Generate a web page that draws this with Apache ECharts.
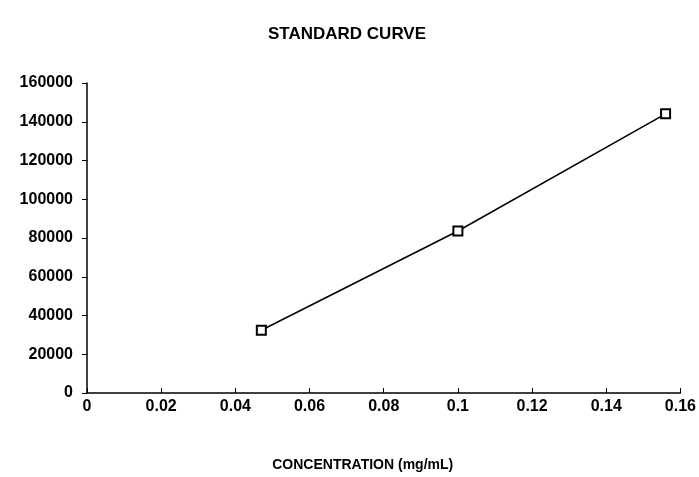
<!DOCTYPE html>
<html>
<head>
<meta charset="utf-8">
<script src="https://cdn.jsdelivr.net/npm/echarts@6/dist/echarts.min.js"></script>
<style>
  html, body { margin: 0; padding: 0; background: #fff; }
  #chart { width: 699px; height: 477px; }
</style>
</head>
<body>
<div id="chart"></div>
<script>
// standard curve points
var concentration = [0.047, 0.1, 0.156];
var response = [32400, 83600, 144100];

var chartDom = document.getElementById('chart');
var myChart = echarts.init(chartDom);
var option;

var fontFam = '"Liberation Sans", Arial, sans-serif';

option = {
  backgroundColor: '#fff',
  animation: false,
  title: {
    text: 'STANDARD CURVE',
    left: 342,
    top: 21,
    textAlign: 'center',
    textStyle: { fontFamily: fontFam, fontSize: 17, fontWeight: 'bold', color: '#000' }
  },
  grid: { left: 87, right: 17, top: 83, bottom: 82 },
  xAxis: {
    type: 'value',
    min: 0,
    max: 0.16,
    interval: 0.02,
    name: 'CONCENTRATION (mg/mL)',
    nameLocation: 'middle',
    nameGap: 65,
    nameTextStyle: { fontFamily: fontFam, fontSize: 14, fontWeight: 'bold', color: '#000', padding: [0, 42, 0, 0] },
    axisLine: { lineStyle: { color: '#000', width: 1.5 } },
    axisTick: { inside: true, length: 5, lineStyle: { color: '#000' } },
    axisLabel: { fontFamily: fontFam, fontSize: 16, fontWeight: 'bold', color: '#000', margin: 6 },
    splitLine: { show: false }
  },
  yAxis: {
    type: 'value',
    min: 0,
    max: 160000,
    interval: 20000,
    axisLine: { show: true, lineStyle: { color: '#000', width: 1.5 } },
    axisTick: { show: true, length: 5, lineStyle: { color: '#000' } },
    axisLabel: {
      fontFamily: fontFam, fontSize: 16, fontWeight: 'bold', color: '#000', margin: 14,
      formatter: function (v) { return String(v); }
    },
    splitLine: { show: false }
  },
  series: [
    {
      type: 'line',
      data: concentration.map(function (c, i) { return [c, response[i]]; }),
      symbol: 'rect',
      symbolSize: 9,
      itemStyle: { color: '#fff', borderColor: '#000', borderWidth: 2 },
      lineStyle: { color: '#000', width: 1.5 }
    }
  ]
};

option && myChart.setOption(option);
</script>
</body>
</html>
